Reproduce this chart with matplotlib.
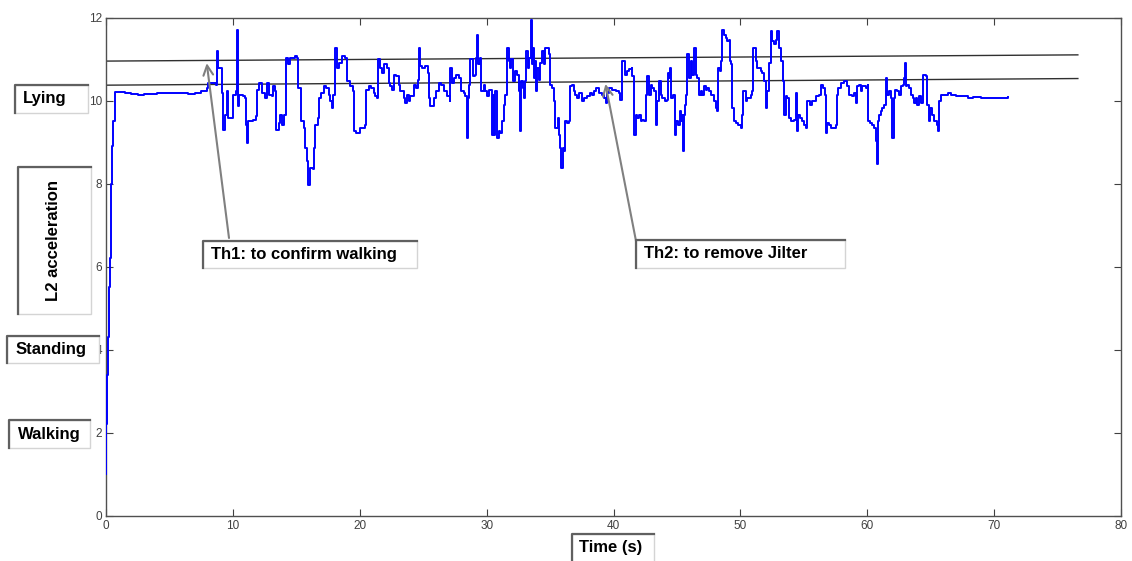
import matplotlib
matplotlib.use("Agg")
import matplotlib.pyplot as plt
from matplotlib.patches import Rectangle
from matplotlib.lines import Line2D

# L2 acceleration trace (time in s, value)
t = [0.00, 0.02, 0.08, 0.12, 0.20, 0.30, 0.40, 0.47, 0.55, 0.68,
     1.0, 1.5, 2.0, 2.5, 3.0, 3.5, 4.0, 4.5, 5.0, 5.5, 6.0, 6.5, 7.02, 7.5, 7.94,
     8.07, 8.65, 8.73, 8.81, 9.07, 9.12, 9.26, 9.39, 9.52, 9.65, 9.91, 10.04, 10.23, 10.31, 10.39,
     10.49, 10.83, 10.97, 11.04, 11.15, 11.23, 11.62, 11.83, 11.89, 12.02, 12.28, 12.54, 12.67,
     12.81, 13.07, 13.20, 13.33, 13.38, 13.60, 13.73, 13.91, 14.02, 14.17, 14.38, 14.52, 14.86,
     15.04, 15.17, 15.38, 15.57, 15.70, 15.83, 15.96, 16.09, 16.28, 16.38, 16.49, 16.70, 16.80,
     16.96, 17.15, 17.33, 17.54, 17.67, 17.80, 17.86, 18.01, 18.20, 18.33, 18.59, 18.86, 18.99,
     19.25, 19.46,
     19.57, 19.72, 20.04, 20.43, 20.51, 20.70, 20.88, 21.09, 21.22, 21.35, 21.41, 21.56, 21.75,
     21.88, 22.14, 22.27, 22.41, 22.54, 22.67, 22.88, 23.06, 23.20, 23.46, 23.59, 23.72, 23.85,
     23.98, 24.25, 24.46, 24.59, 24.64, 24.72, 24.90, 25.17, 25.35, 25.43, 25.56, 25.83, 26.04,
     26.22, 26.40, 26.61, 26.88, 27.09, 27.14, 27.27, 27.46, 27.61, 27.80, 27.98, 28.19, 28.32,
     28.46, 28.51, 28.59, 28.72, 28.93, 29.11, 29.19, 29.24, 29.32, 29.45, 29.59, 29.77, 29.90,
     30.03, 30.16, 30.43, 30.51, 30.61, 30.69, 30.82, 30.95, 31.09, 31.22, 31.35, 31.48,
     31.61, 31.74, 31.87, 31.95, 32.06, 32.22, 32.40, 32.53, 32.66, 32.74, 32.85, 32.93, 33.06,
     33.11, 33.27, 33.37, 33.48, 33.58, 33.64, 33.72, 33.79, 33.90, 33.98, 34.11, 34.24, 34.37,
     34.50, 34.64, 34.77, 34.90, 35.03, 35.16, 35.29, 35.37, 35.48, 35.64, 35.74, 35.82, 35.90,
     36.00, 36.08, 36.21, 36.35, 36.48, 36.61, 36.74, 36.87, 37.00, 37.13, 37.27, 37.48, 37.66,
     37.92, 38.11, 38.27, 38.45, 38.63, 38.84, 39.11, 39.24, 39.37, 39.50, 39.63, 39.90, 40.16,
     40.42, 40.55, 40.69, 40.82, 40.90, 41.08, 41.21, 41.42, 41.47, 41.61, 41.74, 41.87, 42.00,
     42.13, 42.26, 42.39, 42.53, 42.66, 42.79, 42.92, 43.05, 43.18, 43.32, 43.45, 43.58, 43.71,
     43.84,
     44.03, 44.18, 44.29, 44.37, 44.45, 44.55, 44.71, 44.81, 44.89, 45.08, 45.24, 45.34, 45.42,
     45.50, 45.55, 45.60, 45.68, 45.81, 45.95, 46.08, 46.21, 46.34, 46.47, 46.60, 46.73, 46.87,
     47.00, 47.13, 47.26, 47.39, 47.52, 47.66, 47.92, 48.05, 48.18, 48.23, 48.39, 48.50, 48.58,
     48.71, 48.84, 48.97, 49.10, 49.18, 49.29, 49.36, 49.50, 49.63, 49.81, 50.02, 50.15, 50.23,
     50.42, 50.55, 50.81, 50.94, 51.02, 51.21, 51.34, 51.60, 51.73, 51.86, 51.99, 52.13, 52.26,
     52.39, 52.52, 52.65, 52.78, 52.92, 53.05, 53.23, 53.39, 53.44, 53.57, 53.70, 53.84, 54.02,
     54.23, 54.36, 54.44, 54.55, 54.70, 54.89, 55.02, 55.15, 55.28, 55.49, 55.68, 55.94,
     56.20, 56.33, 56.52, 56.68, 56.73, 56.86, 56.99, 57.12, 57.39, 57.52, 57.60, 57.73, 57.91,
     58.18, 58.36, 58.44, 58.57, 58.83, 58.96, 59.10, 59.23, 59.36, 59.49, 59.62, 59.89, 60.02,
     60.07, 60.20, 60.41, 60.54, 60.67, 60.75, 60.81, 60.94, 61.07, 61.20, 61.33, 61.46, 61.59,
     61.73, 61.86, 61.94, 61.99, 62.07, 62.20, 62.38, 62.52, 62.65, 62.78, 62.86, 62.94, 63.04,
     63.17, 63.30, 63.44, 63.57, 63.70, 63.83, 63.96, 64.09, 64.22, 64.36, 64.49, 64.62, 64.70,
     64.83, 64.93, 65.09, 65.28, 65.46, 65.57, 65.67, 65.80, 66.07, 66.33, 66.59, 66.99, 67.51,
     67.91, 68.30, 68.56, 69.0, 69.5, 70.0, 70.5, 71.1]
acc = [1.00, 2.20, 3.40, 4.30, 5.50, 6.20, 8.00, 8.90, 9.50, 10.20,
       10.21, 10.19, 10.15, 10.13, 10.15, 10.16, 10.17, 10.17, 10.18, 10.17, 10.19, 10.15, 10.18, 10.22, 10.30,
       10.42, 10.38, 11.19, 10.78, 10.78, 10.18, 9.30, 9.66, 10.22, 9.58, 9.58, 10.14, 10.22, 11.71, 9.86,
       10.14, 10.10, 10.06, 9.42, 8.98, 9.50, 9.54, 9.62, 10.26, 10.42, 10.18, 10.06, 10.42,
       10.14, 10.10, 10.34, 10.22, 9.30, 9.46, 9.66, 9.42, 9.66, 11.03, 10.87, 11.03, 11.07,
       11.03, 10.30, 9.50, 9.34, 8.86, 8.54, 7.97, 8.38, 8.34, 8.86, 9.42, 9.58, 10.06,
       10.18, 10.34, 10.30, 10.14, 9.98, 9.82, 10.14, 11.27, 10.79, 10.91, 11.07, 11.03, 10.46,
       10.34, 10.22,
       9.26, 9.22, 9.34, 9.42, 10.26, 10.34, 10.30, 10.18, 10.10, 10.06, 10.99, 10.79, 10.66,
       10.87, 10.79, 10.42, 10.34, 10.26, 10.62, 10.58, 10.38, 10.22, 10.06, 9.94, 10.14, 9.98,
       10.10, 10.38, 10.30, 10.50, 11.27, 10.83, 10.79, 10.83, 10.66, 10.06, 9.86, 10.06, 10.22,
       10.42, 10.38, 10.22, 10.10, 9.98, 10.79, 10.42, 10.54, 10.62, 10.54, 10.22, 10.18, 10.10,
       9.10, 10.06, 10.38, 10.99, 10.58, 10.62, 11.03, 11.59, 10.87, 11.03, 10.22, 10.38, 10.22,
       10.10, 10.26, 9.18, 10.14, 9.18, 10.22, 9.10, 9.26, 9.22, 9.50, 9.90, 10.14,
       11.27, 10.95, 10.79, 10.99, 10.46, 10.71, 10.62, 10.22, 9.26, 10.46, 10.30, 10.06, 10.46,
       11.19, 10.79, 11.03, 11.95, 10.87, 11.27, 10.54, 10.95, 10.22, 10.79, 10.50, 10.91, 11.19,
       10.87, 11.27, 11.27, 11.11, 10.38, 10.30, 9.98, 9.34, 9.34, 9.58, 9.18, 8.86, 8.38,
       8.86, 8.78, 9.50, 9.46, 9.50, 10.34, 10.38, 10.22, 10.14, 10.06, 10.18, 9.98, 10.06,
       10.10, 10.18, 10.14, 10.22, 10.30, 10.18, 10.14, 10.06, 9.94, 10.18, 10.30, 10.26, 10.22,
       10.18, 10.02, 10.95, 10.95, 10.62, 10.71, 10.75, 10.79, 10.58, 9.18, 9.66, 9.58, 9.66,
       9.50, 9.54, 9.50, 10.14, 10.58, 10.14, 10.38, 10.30, 10.22, 9.42, 9.98, 10.46, 10.14,
       10.06,
       9.98, 10.02, 10.66, 10.54, 10.79, 10.06, 10.14, 9.18, 9.50, 9.42, 9.74, 9.50, 9.66,
       8.78, 9.66, 9.90, 10.14, 11.11, 10.54, 10.95, 10.62, 11.27, 10.62, 10.54, 10.14, 10.22,
       10.14, 10.34, 10.26, 10.30, 10.22, 10.14, 9.98, 9.82, 9.74, 10.79, 10.71, 10.95, 11.71,
       11.59, 11.51, 11.43, 11.47, 10.95, 10.87, 9.82, 9.50, 9.46, 9.42, 9.34, 9.66, 10.22,
       9.98, 10.06, 10.14, 10.22, 11.27, 10.95, 10.79, 10.71, 10.66, 10.46, 9.82, 10.22, 10.91,
       11.67, 11.43, 11.35, 11.47, 11.67, 11.27, 10.95, 10.46, 9.66, 10.10, 10.06, 9.58, 9.50,
       9.54, 10.18, 9.26, 9.66, 9.58, 9.50, 9.42, 9.34, 9.98, 9.90, 9.98, 10.10,
       10.14, 10.38, 10.30, 10.14, 9.22, 9.46, 9.42, 9.34, 9.34, 9.42, 10.14, 10.30, 10.42,
       10.46, 10.46, 10.34, 10.14, 10.10, 10.18, 9.94, 10.34, 10.38, 10.22, 10.34, 10.30, 10.38,
       9.50, 9.46, 9.42, 9.34, 9.02, 8.46, 9.50, 9.66, 9.74, 9.82, 9.90, 10.54, 10.14,
       10.22, 10.06, 9.98, 9.10, 10.06, 10.26, 10.22, 10.14, 10.34, 10.38, 10.54, 10.91, 10.34,
       10.38, 10.30, 10.14, 10.06, 9.94, 10.06, 9.90, 10.10, 9.94, 10.62, 10.62, 10.58, 9.90,
       9.50, 9.82, 9.66, 9.50, 9.42, 9.26, 9.98, 10.14, 10.14, 10.18, 10.14, 10.10, 10.10,
       10.06, 10.08, 10.08, 10.06, 10.07, 10.06, 10.07, 10.08]

# threshold lines (start / end)
th_t = [0, 76.6]
th1 = [10.95, 11.10]
th2 = [10.37, 10.53]

xticks = [0, 10, 20, 30, 40, 50, 60, 70, 80]
yticks = [0, 2, 4, 6, 8, 10, 12]

plt.rcParams['font.family'] = ['Liberation Sans', 'DejaVu Sans']

W, H = 1132, 561
fig = plt.figure(figsize=(W / 100, H / 100), dpi=100)
ax = fig.add_axes([106 / W, 1 - 515.7 / H, (1121 - 106) / W, (515.7 - 17.5) / H])

ax.plot(t, acc, color='#0000ff', lw=1.4, drawstyle='steps-post', zorder=3)
ax.plot(th_t, th1, color='#303030', lw=1.0, zorder=2)
ax.plot(th_t, th2, color='#303030', lw=1.0, zorder=2)

ax.set_xlim(0, 80)
ax.set_ylim(0, 12)
ax.set_xticks(xticks)
ax.set_yticks(yticks)
ax.tick_params(direction='in', top=True, right=True, length=5, width=0.8,
               color='#404040', labelsize=8.5, labelcolor='#404040', pad=3)
for s in ax.spines.values():
    s.set_color('#505050')
    s.set_linewidth(1)


def fx(px):
    return px / W


def fy(py):
    return 1 - py / H


def label_box(x0, y0, x1, y1, text, tx, rot=0):
    fig.add_artist(Rectangle((fx(x0), fy(y1)), fx(x1) - fx(x0), fy(y0) - fy(y1),
                             transform=fig.transFigure, facecolor='white',
                             edgecolor='#d4d4d4', lw=1, zorder=5))
    fig.add_artist(Line2D([fx(x0), fx(x0), fx(x1)], [fy(y1), fy(y0), fy(y0)],
                          transform=fig.transFigure, color='#606060', lw=1.6, zorder=6))
    cy = (y0 + min(y1, H)) / 2
    if rot:
        fig.text(fx(tx), fy(cy), text, rotation=90, ha='center', va='center',
                 fontsize=12, fontweight='bold', zorder=7)
    else:
        fig.text(fx(tx), fy(cy), text, ha='left', va='center',
                 fontsize=12, fontweight='bold', zorder=7)


label_box(15, 85, 88, 113, 'Lying', 23)
label_box(18, 167, 91, 314, 'L2 acceleration', 54, rot=90)
label_box(7, 336, 99, 363, 'Standing', 16)
label_box(9, 420, 90, 448, 'Walking', 18)
label_box(203, 241, 417, 268, 'Th1: to confirm walking', 211)
label_box(636, 240, 845, 268, 'Th2: to remove Jilter', 644)
label_box(572, 534, 654, 566, 'Time (s)', 579)

arrow = dict(arrowstyle='->,head_length=0.7,head_width=0.35', color='#808080',
             lw=1.5, shrinkA=0, shrinkB=0)
ax.annotate('', xy=(7.94, 10.90), xycoords='data',
            xytext=(fx(229), fy(238)), textcoords='figure fraction', arrowprops=arrow)
ax.annotate('', xy=(39.37, 10.40), xycoords='data',
            xytext=(fx(636), fy(241)), textcoords='figure fraction', arrowprops=arrow)

fig.savefig('out.png', dpi=100)
